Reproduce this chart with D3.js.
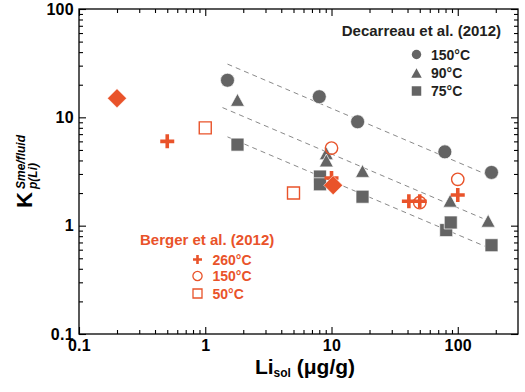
<!DOCTYPE html>
<html>
<head>
<meta charset="utf-8">
<script src="https://cdn.jsdelivr.net/npm/d3@7"></script>
<style>
  body { margin: 0; background: #fff; }
  svg { display: block; font-family: "Liberation Sans", Arial, Helvetica, sans-serif; font-weight: bold; }
</style>
</head>
<body>
<svg width="525" height="392"></svg>
<script>
// Decarreau et al. (2012), [Li_sol, K]
const decarreau150 = [[1.5, 22], [8, 15.5], [16.1, 9.1], [79, 4.8], [185, 3.1]]
const decarreau90 = [[1.8, 14.5], [9.1, 4.66], [9.1, 4.0], [17.6, 3.2], [87, 1.7], [174, 1.11]]
const decarreau75 = [[1.8, 5.6], [8.1, 2.84], [8.1, 2.41], [17.6, 1.85], [81, 0.91], [88, 1.07], [185, 0.66]]

// Berger et al. (2012)
const berger260 = [[0.5, 6], [10, 2.75], [41, 1.68], [50, 1.68], [100, 1.92]]
const berger150 = [[10, 5.2], [50, 1.63], [100, 2.68]]
const berger50 = [[1, 8], [5, 2]]
const bergerDiamond = [[0.2, 15], [10.3, 2.36]]

// dashed trend lines (end points)
const fitLines = [
  [[1.5, 31], [170, 2.96]],
  [[1.37, 12.3], [157, 1.17]],
  [[1.5, 6.6], [167, 0.64]]
]

const xMajor = [0.1, 1, 10, 100]
const xMajorLabels = ["0.1", "1", "10", "100"]
const xMinor = [0.2, 0.3, 0.4, 0.5, 0.6, 0.7, 0.8, 0.9, 2, 3, 4, 5, 6, 7, 8, 9, 20, 30, 40, 50, 60, 70, 80, 90, 200]
const yMajor = [0.1, 1, 10, 100]
const yMajorLabels = ["0.1", "1", "10", "100"]
const yMinor = [0.2, 0.3, 0.4, 0.5, 0.6, 0.7, 0.8, 0.9, 2, 3, 4, 5, 6, 7, 8, 9, 20, 30, 40, 50, 60, 70, 80, 90]

const GRAY = "#646464"
const ORANGE = "#e9532a"
const DARK = "#231f20"

const svg = d3.select("svg")
const plotL = 79, plotR = 518, plotT = 9, plotB = 334

const x = d3.scaleLog().domain([0.1, 300]).range([plotL, plotR])
const y = d3.scaleLog().domain([0.1, 100]).range([plotB, plotT])

// axes: ticks inward on all four sides
function drawAxis(axisFn, scale, tr, vals, size, labels) {
  const a = axisFn(scale).tickValues(vals).tickSizeInner(-size).tickSizeOuter(0)
  if (labels) a.tickFormat((d, i) => labels[i]).tickPadding(size + 4)
  else a.tickFormat("")
  const g = svg.append("g").attr("transform", tr).call(a)
  g.select(".domain").remove()
  g.selectAll(".tick line").attr("stroke", "#000").attr("stroke-width", 1.1)
  g.selectAll("text").attr("fill", "#000").style("font-size", "16px")
    .style("font-weight", "bold").style("letter-spacing", "0.3px")
  return g
}

const gb = drawAxis(d3.axisBottom, x, `translate(0,${plotB})`, xMajor, 7, xMajorLabels)
gb.selectAll("text").attr("y", 6)
drawAxis(d3.axisBottom, x, `translate(0,${plotB})`, xMinor, 4)
drawAxis(d3.axisTop, x, `translate(0,${plotT})`, xMajor, 7)
drawAxis(d3.axisTop, x, `translate(0,${plotT})`, xMinor, 4)
const gl = drawAxis(d3.axisLeft, y, `translate(${plotL},0)`, yMajor, 7, yMajorLabels)
gl.selectAll("text").attr("x", -5)
drawAxis(d3.axisLeft, y, `translate(${plotL},0)`, yMinor, 4)
drawAxis(d3.axisRight, y, `translate(${plotR},0)`, yMajor, 7)
drawAxis(d3.axisRight, y, `translate(${plotR},0)`, yMinor, 4)

svg.append("rect")
  .attr("x", plotL).attr("y", plotT)
  .attr("width", plotR - plotL).attr("height", plotB - plotT)
  .attr("fill", "none").attr("stroke", "#000").attr("stroke-width", 1.3)

// trend lines
svg.append("g").selectAll("line").data(fitLines).join("line")
  .attr("x1", d => x(d[0][0])).attr("y1", d => y(d[0][1]))
  .attr("x2", d => x(d[1][0])).attr("y2", d => y(d[1][1]))
  .attr("stroke", "#8a8a8a").attr("stroke-width", 1)
  .attr("stroke-dasharray", "5,4")

// marker shapes
const shape = {
  circle: r => d3.symbol(d3.symbolCircle, Math.PI * r * r)(),
  triangle: s => `M0,${-s * 0.46}L${s / 2},${s * 0.46}L${-s / 2},${s * 0.46}Z`,
  square: s => `M${-s / 2},${-s / 2}h${s}v${s}h${-s}Z`,
  diamond: s => `M0,${-s / 2}L${s / 2},0L0,${s / 2}L${-s / 2},0Z`,
  plus: s => `M${-s / 2},0H${s / 2}M0,${-s / 2}V${s / 2}`
}

function drawMarks(data, path, fill, stroke, sw) {
  svg.append("g").selectAll("path").data(data).join("path")
    .attr("transform", d => `translate(${x(d[0])},${y(d[1])})`)
    .attr("d", path)
    .attr("fill", fill).attr("stroke", stroke).attr("stroke-width", sw)
}

drawMarks(decarreau150, shape.circle(7), GRAY, "#fff", 0.7)
drawMarks(decarreau90, shape.triangle(14), GRAY, "#fff", 0.7)
drawMarks(decarreau75, shape.square(13), GRAY, "#fff", 0.7)

drawMarks(berger50, shape.square(12), "#fff", ORANGE, 1.4)
drawMarks(berger150, shape.circle(6.2), "none", ORANGE, 1.4)
drawMarks(berger260, shape.plus(14), "none", ORANGE, 3.6)
drawMarks(bergerDiamond, shape.diamond(19), ORANGE, "#fff", 0.5)

// legend: Decarreau
svg.append("text").attr("x", 501).attr("y", 36).attr("text-anchor", "end")
  .attr("fill", DARK).style("font-size", "15px").text("Decarreau et al. (2012)")
const legD = [
  { label: "150°C", path: shape.circle(4.7), y: 54.5 },
  { label: "90°C", path: shape.triangle(10.5), y: 73 },
  { label: "75°C", path: shape.square(9.5), y: 91 }
]
legD.forEach(d => {
  svg.append("path").attr("transform", `translate(416.5,${d.y})`).attr("d", d.path).attr("fill", GRAY)
  svg.append("text").attr("x", 431).attr("y", d.y + 5).attr("fill", DARK)
    .style("font-size", "14px").text(d.label)
})

// legend: Berger
svg.append("text").attr("x", 140).attr("y", 245)
  .attr("fill", ORANGE).style("font-size", "15px").text("Berger et al. (2012)")
const legB = [
  { label: "260°C", path: shape.plus(9), fill: "none", sw: 2.6, y: 259.5 },
  { label: "150°C", path: shape.circle(4.6), fill: "none", sw: 1.3, y: 276 },
  { label: "50°C", path: shape.square(9), fill: "none", sw: 1.3, y: 293.5 }
]
legB.forEach(d => {
  svg.append("path").attr("transform", `translate(197.5,${d.y})`).attr("d", d.path)
    .attr("fill", d.fill).attr("stroke", ORANGE).attr("stroke-width", d.sw)
  svg.append("text").attr("x", 212.5).attr("y", d.y + 5).attr("fill", ORANGE)
    .style("font-size", "14px").text(d.label)
})

// x title
const xt = svg.append("text").attr("x", 305).attr("y", 374).attr("text-anchor", "middle")
  .attr("fill", "#000").style("font-size", "21px")
xt.append("tspan").text("Li")
xt.append("tspan").attr("dy", 3).style("font-size", "12px").text("sol")
xt.append("tspan").attr("dy", -3).text(" (μg/g)")

// y title
const yt = svg.append("g").attr("transform", "translate(32,208) rotate(-90)").attr("fill", "#000")
yt.append("text").attr("x", 0).attr("y", 0).style("font-size", "22px").text("K")
yt.append("text").attr("x", 19).attr("y", -7).style("font-size", "12px").style("font-style", "italic").text("Sme/fluid")
yt.append("text").attr("x", 19).attr("y", 5).style("font-size", "12px").style("font-style", "italic").text("p(Li)")
</script>
</body>
</html>
